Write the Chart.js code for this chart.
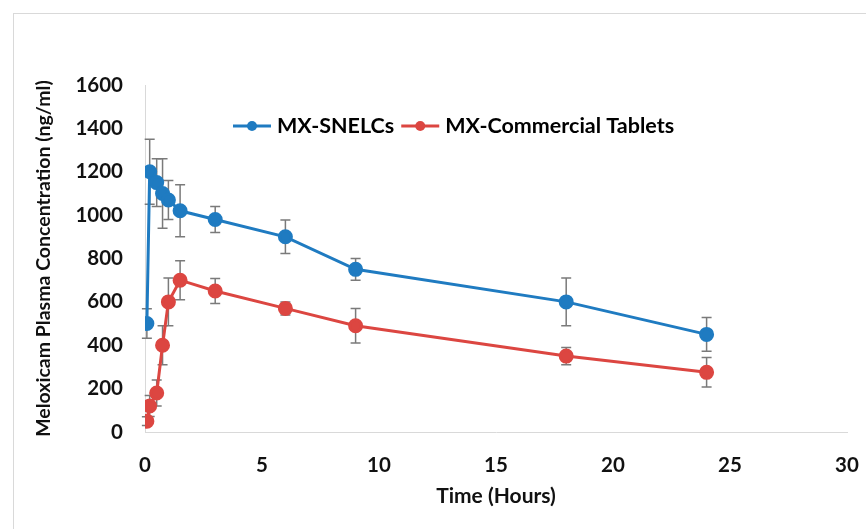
<!DOCTYPE html>
<html>
<head>
<meta charset="utf-8">
<script src="https://cdn.jsdelivr.net/npm/chart.js@4.4.1/dist/chart.umd.min.js"></script>
<style>
  html, body { margin: 0; padding: 0; background: #fff; }
  #wrap { position: relative; width: 866px; height: 529px; overflow: hidden; }
  #frame { position: absolute; left: 13px; top: 13px; width: 900px; height: 600px; border: 1px solid #d9d9d9; }
  canvas { position: absolute; left: 0; top: 0; }
</style>
</head>
<body>
<div id="wrap">
  <div id="frame"></div>
  <canvas id="chart" width="866" height="529"></canvas>
</div>
<script>
// sampling times (hours)
const timeHours = [0.08, 0.2, 0.5, 0.75, 1, 1.5, 3, 6, 9, 18, 24];

// MX-SNELCs mean and SD (ng/ml)
const snelcMean = [500, 1200, 1150, 1100, 1070, 1020, 980, 900, 750, 600, 450];
const snelcSd = [68, 150, 110, 160, 90, 120, 60, 77, 50, 110, 78];

// MX-Commercial Tablets mean and SD (ng/ml)
const tabletMean = [50, 120, 180, 400, 600, 700, 650, 570, 490, 350, 275];
const tabletSd = [20, 48, 60, 90, 110, 90, 58, 30, 80, 40, 68];

const seriesNames = ['MX-SNELCs', 'MX-Commercial Tablets'];
const xTicks = [0, 5, 10, 15, 20, 25, 30];
const yTicks = [0, 200, 400, 600, 800, 1000, 1200, 1400, 1600];

const BLUE = '#1f7bc1';
const RED = '#dc4641';
const FONT = 'Lato, "Noto Sans", sans-serif';

const toPoints = (means) => timeHours.map((t, i) => ({ x: t, y: means[i] }));

// error bars drawn under the lines
const errorBarPlugin = {
  id: 'errorBars',
  beforeDatasetsDraw(chart) {
    const { ctx, scales: { x, y } } = chart;
    const sds = [snelcSd, tabletSd];
    ctx.save();
    ctx.strokeStyle = '#7a7a7a';
    ctx.lineWidth = 1.5;
    chart.data.datasets.forEach((ds, di) => {
      ds.data.forEach((p, i) => {
        const px = x.getPixelForValue(p.x);
        const top = y.getPixelForValue(p.y + sds[di][i]);
        const bot = y.getPixelForValue(p.y - sds[di][i]);
        ctx.beginPath();
        ctx.moveTo(px, top); ctx.lineTo(px, bot);
        ctx.moveTo(px - 5, top); ctx.lineTo(px + 5, top);
        ctx.moveTo(px - 5, bot); ctx.lineTo(px + 5, bot);
        ctx.stroke();
      });
    });
    ctx.restore();
  }
};

// legend sits inside the plot area, like the original
const innerLegendPlugin = {
  id: 'innerLegend',
  afterDraw(chart) {
    const { ctx, chartArea } = chart;
    let cx = chartArea.left + 88;
    const cy = chartArea.top + 41;
    ctx.save();
    ctx.font = 'bold 21.5px ' + FONT;
    ctx.textBaseline = 'middle';
    chart.data.datasets.forEach((ds) => {
      ctx.strokeStyle = ds.borderColor;
      ctx.lineWidth = 3;
      ctx.beginPath();
      ctx.moveTo(cx, cy); ctx.lineTo(cx + 38, cy);
      ctx.stroke();
      ctx.fillStyle = ds.borderColor;
      ctx.beginPath();
      ctx.arc(cx + 19, cy, 5, 0, Math.PI * 2);
      ctx.fill();
      ctx.fillStyle = '#000';
      ctx.fillText(ds.label, cx + 44, cy);
      cx += 44 + ctx.measureText(ds.label).width + 7;
    });
    ctx.restore();
  }
};

const makeDataset = (label, means, color) => ({
  label,
  data: toPoints(means),
  borderColor: color,
  backgroundColor: color,
  borderWidth: 3,
  pointRadius: 6,
  pointHoverRadius: 6,
  tension: 0
});

new Chart(document.getElementById('chart'), {
  type: 'line',
  data: {
    datasets: [
      makeDataset(seriesNames[0], snelcMean, BLUE),
      makeDataset(seriesNames[1], tabletMean, RED)
    ]
  },
  options: {
    responsive: false,
    animation: false,
    layout: { padding: { left: 22, right: 19, top: 85, bottom: 10 } },
    plugins: {
      legend: { display: false },
      tooltip: { enabled: false }
    },
    scales: {
      x: {
        type: 'linear',
        min: 0,
        max: 30,
        afterBuildTicks: (scale) => { scale.ticks = xTicks.map(v => ({ value: v })); },
        afterFit: (scale) => {
          scale.height = 529 - 432 - 10;
          // tick padding is vertical here, don't let it eat horizontal room
          scale.paddingLeft = 0;
          scale.paddingRight = 0;
        },
        grid: { display: false, drawTicks: false },
        border: { display: true, color: '#d9d9d9', width: 1 },
        ticks: {
          color: '#111',
          padding: 21,
          callback: (v) => String(v),
          font: { family: FONT, size: 20.5, weight: 'bold' }
        },
        title: {
          display: true,
          text: 'Time (Hours)',
          color: '#111',
          padding: { top: 0, bottom: 10 },
          font: { family: FONT, size: 21, weight: 'bold' }
        }
      },
      y: {
        min: 0,
        max: 1600,
        afterBuildTicks: (scale) => { scale.ticks = yTicks.map(v => ({ value: v })); },
        afterFit: (scale) => { scale.width = 145 - 22; },
        grid: { display: false, drawTicks: false },
        border: { display: true, color: '#d9d9d9', width: 1 },
        ticks: {
          color: '#111',
          padding: 22,
          callback: (v) => String(v),
          font: { family: FONT, size: 20.5, weight: 'bold' }
        },
        title: {
          display: true,
          text: 'Meloxicam Plasma Concentration (ng/ml)',
          color: '#111',
          padding: { top: 10, bottom: 0 },
          font: { family: FONT, size: 19.5, weight: 'bold' }
        }
      }
    }
  },
  plugins: [errorBarPlugin, innerLegendPlugin]
});
</script>
</body>
</html>
